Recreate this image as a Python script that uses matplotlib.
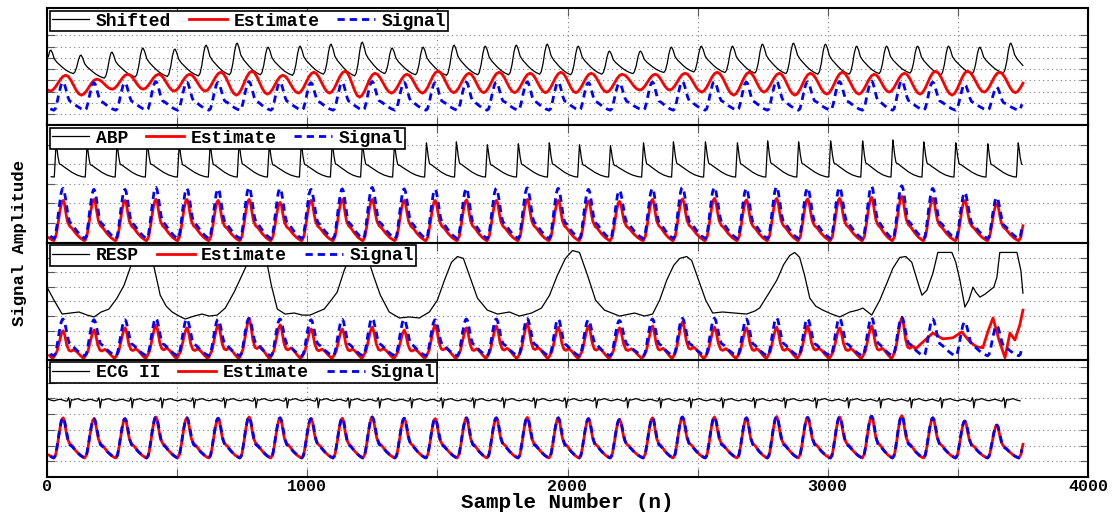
"""
plot.py
4 stacked panels: Shifted / ABP / RESP / ECG II, each with the estimate and the target signal.
Values read off the reference picture (beat positions, beat heights, one beat shape per waveform).
"""

import numpy as np
import matplotlib
matplotlib.use("Agg")
from matplotlib import pyplot as plt

N_END = 3750  # last sample

# ---- Signal (blue, normalised: trough 0, peak 1) ----
# peak positions in samples (first and last are the partial beats at the edges)
sig_peaks = [-57, 62, 181, 300, 419, 538, 658, 777, 896, 1015, 1135, 1250, 1373, 1492, 1612, 1727,
             1846, 1965, 2081, 2200, 2327, 2442, 2565, 2688, 2804, 2923, 3046, 3169, 3285, 3404,
             3527, 3650, 3770]
sig_tops = [1.0, 1.0, 0.98, 0.98, 1.02, 1.0, 0.99, 1.02, 1.0, 0.98, 0.99, 1.02, 0.99, 0.98, 1.0, 1.0,
            1.01, 1.0, 0.98, 0.96, 1.0, 1.02, 1.02, 1.0, 1.03, 1.01, 1.02, 1.04, 1.05, 1.0,
            0.92, 0.82, 0.85]
# one beat: samples before the peak, then fractions of the way to the next trough
sig_pre_off = [-36, -30, -24, -16, -8, -3, 0]
sig_pre_val = [0.0, 0.05, 0.25, 0.6, 0.9, 0.99, 1.0]
sig_post_frac = [0.05, 0.11, 0.16, 0.23, 0.30, 0.42, 0.63, 0.84]
sig_post_val = [0.95, 0.8, 0.65, 0.45, 0.33, 0.28, 0.15, 0.05]

# ---- Estimate beat shape (panels 2 and 4) ----
est_pre_off = [-36, -28, -20, -12, -5, 0]
est_pre_val = [0.0, 0.1, 0.4, 0.75, 0.96, 1.0]
est_post_frac = [0.06, 0.13, 0.2, 0.3, 0.42, 0.6, 0.78, 0.94]
est_post_val = [0.92, 0.68, 0.48, 0.36, 0.3, 0.17, 0.07, 0.01]
est2_tops = [0.76, 0.76, 0.78, 0.76, 0.78, 0.78, 0.76, 0.78, 0.72, 0.76, 0.78, 0.78, 0.76, 0.76,
             0.77, 0.76, 0.78, 0.76, 0.75, 0.74, 0.78, 0.79, 0.8, 0.77, 0.8, 0.79, 0.8, 0.82,
             0.84, 0.8, 0.76, 0.7, 0.7]

# ---- Estimate in panel 3 (with second bump) ----
est3_pre_off = [-36, -24, -14, -6, 0]
est3_pre_val = [0.0, 0.2, 0.6, 0.9, 1.0]
est3_post_frac = [0.07, 0.17, 0.27, 0.36, 0.5, 0.63, 0.8, 0.94]
est3_post_val = [0.85, 0.45, 0.25, 0.22, 0.28, 0.2, 0.05, -0.05]
est3_tops = [0.75, 0.68, 0.70, 0.76, 0.84, 0.76, 0.84, 1.0, 0.84, 0.73, 0.73, 0.78, 0.70, 0.84,
             0.76, 0.81, 0.88, 0.78, 0.81, 0.76, 0.81, 0.92, 0.78, 0.76, 0.78, 0.81, 0.76, 0.81,
             1.03, 0.62]
est3_tail_x = [3354, 3404, 3442, 3481, 3515, 3546, 3573, 3596, 3615, 3635, 3658, 3681, 3700, 3719,
               3738, 3750]
est3_tail_y = [0.30, 0.62, 0.46, 0.49, 0.65, 0.38, 0.24, 0.22, 0.65, 1.03, 0.43, -0.05, 0.62, 0.43,
               0.84, 1.24]

# ---- Estimate in panel 1 (smooth wave, panel units) ----
est1_lag = 10
est1_tops = [4.5, 4.46, 4.11, 4.55, 4.55, 4.55, 4.73, 4.82, 4.46, 4.73, 4.82, 4.64, 4.55, 4.82,
             4.64, 4.73, 4.64, 4.73, 4.64, 4.55, 4.55, 4.64, 4.73, 4.73, 4.64, 4.64, 4.73, 4.55,
             4.64, 4.82, 4.82, 4.73, 4.6]
est1_bases = [3.0, 3.04, 2.68, 3.21, 3.21, 3.04, 3.04, 2.68, 2.77, 2.86, 2.86, 2.5, 2.86, 2.86,
              2.9, 2.9, 2.9, 2.9, 2.9, 2.95, 3.13, 3.13, 2.95, 2.68, 2.95, 2.68, 2.77, 2.77,
              2.95, 2.77, 2.68, 2.95, 2.9]
est1_pre_off = [-59, -50, -40, -30, -20, -10, 0]
est1_pre_val = [0.0, 0.07, 0.25, 0.5, 0.75, 0.93, 1.0]
est1_post_frac = [0.167, 0.333, 0.5, 0.667, 0.833]
est1_post_val = [0.93, 0.75, 0.5, 0.25, 0.07]

# ---- Shifted (panel 1 units) ----
shift_peaks = [-104, 15, 131, 250, 369, 492, 612, 731, 850, 973, 1092, 1212, 1327, 1446, 1565,
               1685, 1804, 1923, 2042, 2162, 2281, 2400, 2515, 2635, 2750, 2869, 2992, 3112, 3227,
               3346, 3465, 3585, 3704, 3823]
shift_tops = [6.7, 6.70, 6.25, 6.52, 6.88, 6.79, 7.14, 7.32, 6.96, 7.05, 7.23, 7.41, 6.88, 6.96,
              7.14, 7.05, 7.14, 7.23, 7.05, 6.61, 6.61, 6.96, 7.05, 7.05, 7.23, 7.32, 7.23, 7.05,
              7.05, 7.05, 7.05, 6.96, 7.32, 7.0]
shift_bases = [4.4, 4.4, 4.6, 4.2, 4.3, 4.35, 4.4, 4.5, 4.5, 4.45, 4.55, 4.4, 4.6, 4.5, 4.45, 4.5,
               4.5, 4.55, 4.5, 4.55, 4.6, 4.7, 4.75, 4.7, 4.65, 4.6, 4.55, 4.55, 4.6, 4.65, 4.5,
               4.6, 4.65, 4.6]
shift_pre_off = [-30, -24, -17, -10, -4, 0]
shift_pre_val = [0.0, 0.08, 0.35, 0.75, 0.97, 1.0]
shift_post_frac = [0.067, 0.157, 0.27, 0.36, 0.51, 0.67, 0.84]
shift_post_val = [0.88, 0.62, 0.48, 0.4, 0.27, 0.15, 0.06]

# ---- ABP (panel 2 units) ----
abp_peaks = [-84, 35, 154, 269, 385, 508, 627, 738, 854, 977, 1096, 1212, 1335, 1458, 1573, 1692,
             1811, 1930, 2046, 2165, 2292, 2407, 2530, 2653, 2769, 2888, 3011, 3134, 3250, 3369,
             3492, 3615, 3732, 3851]
abp_tops = [5.1, 5.1, 5.0, 5.05, 5.1, 5.0, 5.05, 5.1, 5.0, 5.05, 5.1, 5.05, 5.0, 5.1, 5.15, 5.0,
            5.05, 5.1, 5.0, 4.95, 5.1, 5.15, 5.15, 5.1, 5.2, 5.15, 5.2, 5.2, 5.25, 5.15, 5.1,
            5.05, 5.1, 5.1]
abp_base = 3.35
abp_pre_off = [-7, -3, 0]
abp_pre_val = [0.0, 0.55, 1.0]
abp_post_frac = [0.027, 0.063, 0.107, 0.134, 0.179, 0.268, 0.402, 0.536, 0.714, 0.893]
abp_post_val = [0.85, 0.6, 0.4, 0.37, 0.36, 0.3, 0.22, 0.14, 0.06, 0.01]

# ---- RESP (panel 3 units) ----
resp_x = [0, 27, 58, 92, 123, 154, 181, 208, 238, 269, 296, 323, 346, 365, 385, 404, 435, 458,
          481, 508, 531, 565, 596, 623, 654, 685, 719, 758, 788, 815, 838, 862, 885, 915, 950,
          981, 1011, 1038, 1065, 1092, 1115, 1142, 1165, 1188, 1211, 1231, 1254, 1281, 1315,
          1354, 1392, 1431, 1469, 1500, 1527, 1554, 1577, 1600, 1623, 1654, 1692, 1731, 1777,
          1815, 1862, 1900, 1931, 1961, 1992, 2019, 2046, 2077, 2108, 2142, 2200, 2258, 2296,
          2327, 2354, 2381, 2408, 2431, 2458, 2477, 2508, 2531, 2558, 2596, 2642, 2688, 2719,
          2738, 2769, 2804, 2831, 2854, 2873, 2892, 2911, 2931, 2954, 2981, 3015, 3046, 3085,
          3115, 3135, 3154, 3169, 3200, 3227, 3250, 3277, 3300, 3323, 3346, 3362, 3381, 3404,
          3423, 3477, 3492, 3508, 3527, 3542, 3558, 3569, 3585, 3604, 3623, 3638, 3650, 3661,
          3727, 3742, 3750]
resp_y = [4.97, 4.08, 3.13, 3.20, 3.27, 3.06, 2.93, 3.27, 3.47, 4.22, 5.10, 6.46, 7.48, 7.76,
          7.69, 6.94, 4.42, 3.67, 3.27, 2.99, 2.79, 2.99, 3.13, 2.99, 3.06, 3.54, 4.63, 6.12,
          7.28, 7.69, 7.28, 5.10, 3.47, 3.13, 3.20, 3.06, 3.06, 3.27, 3.47, 4.08, 4.63, 6.12,
          7.14, 7.69, 7.55, 7.07, 5.78, 4.42, 3.27, 2.86, 2.93, 2.86, 3.27, 4.08, 5.44, 6.67,
          7.07, 6.94, 5.78, 4.22, 3.40, 3.13, 3.27, 2.99, 3.20, 3.54, 4.42, 5.78, 6.94, 7.48,
          7.35, 5.78, 4.08, 3.40, 2.99, 3.20, 2.99, 3.13, 4.08, 5.44, 6.46, 6.94, 7.07, 6.80,
          5.24, 4.08, 3.20, 3.27, 3.20, 3.13, 3.33, 3.54, 4.42, 5.44, 6.53, 7.14, 7.35, 7.01,
          5.78, 4.22, 3.67, 3.40, 3.13, 2.93, 3.27, 3.40, 3.54, 3.27, 3.06, 4.08, 5.24, 6.26,
          7.01, 7.07, 6.67, 5.31, 4.42, 4.76, 5.92, 7.35, 7.35, 6.67, 5.44, 3.61, 4.08, 4.97,
          4.63, 4.29, 4.49, 4.76, 4.97, 5.65, 7.35, 7.35, 6.12, 4.56]

# ---- ECG II (panel 4 units, around baseline) ----
ecg_r = [-31, 88, 204, 327, 442, 565, 684, 803, 923, 1042, 1162, 1278, 1401, 1520, 1641, 1756,
         1876, 1995, 2111, 2231, 2358, 2474, 2597, 2720, 2837, 2956, 3080, 3203, 3321, 3438,
         3561, 3681, 3800]
ecg_base = 4.84
ecg_pre_off = [-10, -5, -2, 0]
ecg_pre_val = [0.0, 0.2, 0.0, -0.45]
ecg_post_frac = [0.03, 0.055, 0.11, 0.2, 0.29, 0.41, 0.53, 0.64, 0.75, 0.87, 0.96]
ecg_post_val = [-0.15, 0.08, 0.05, 0.1, 0.14, 0.05, 0.0, 0.06, 0.1, 0.03, -0.02]

# where the normalised Signal sits in each panel: (offset, scale)
sig_map = [(1.34, 2.5), (0.2, 2.57), (0.27, 2.52), (1.21, 2.55)]
panel_names = ["Shifted", "ABP", "RESP", "ECG II"]
panel_ylim = [10.45, 6.0, 8.03, 7.45]
panel_nticks = [8, 5, 7, 7]


def beat_line(peaks, pre_off, pre_val, post_frac, post_val, tops, bases):
    # put one beat shape on every peak, stretched to reach the next beat
    n = len(peaks)
    tops = np.broadcast_to(np.asarray(tops, float), n)
    bases = np.broadcast_to(np.asarray(bases, float), n)
    xs, ys = [], []
    for i in range(n):
        p, t, b0 = peaks[i], tops[i], bases[i]
        for o, v in zip(pre_off, pre_val):
            xs.append(p + o)
            ys.append(b0 + (t - b0) * v)
        if i == n - 1:
            break
        b1 = bases[i + 1]
        span = peaks[i + 1] + pre_off[0] - p
        for f, v in zip(post_frac, post_val):
            xs.append(p + f * span)
            ys.append(b1 + (t - b1) * v)
    xs, ys = np.array(xs), np.array(ys)
    keep = (xs >= 0) & (xs <= N_END)
    return xs[keep], ys[keep]


sig_x, sig_y = beat_line(sig_peaks, sig_pre_off, sig_pre_val, sig_post_frac, sig_post_val, sig_tops, 0.0)
est2_x, est2_y = beat_line(sig_peaks, est_pre_off, est_pre_val, est_post_frac, est_post_val, est2_tops, -0.04)
est4_x, est4_y = beat_line(sig_peaks, est_pre_off, est_pre_val, est_post_frac, est_post_val, sig_tops, 0.0)
e3x, e3y = beat_line(sig_peaks[:30], est3_pre_off, est3_pre_val, est3_post_frac, est3_post_val, est3_tops, -0.03)
cut = e3x < est3_tail_x[0] - 9
est3_x = np.concatenate([e3x[cut], est3_tail_x])
est3_y = np.concatenate([e3y[cut], est3_tail_y])
est1_x, est1_y = beat_line(list(np.array(sig_peaks) + est1_lag), est1_pre_off, est1_pre_val,
                           est1_post_frac, est1_post_val, est1_tops, est1_bases)
shift_x, shift_y = beat_line(shift_peaks, shift_pre_off, shift_pre_val, shift_post_frac,
                             shift_post_val, shift_tops, shift_bases)
abp_x, abp_y = beat_line(abp_peaks, abp_pre_off, abp_pre_val, abp_post_frac, abp_post_val, abp_tops, abp_base)
ecg_x, ecg_y = beat_line(ecg_r, ecg_pre_off, ecg_pre_val, ecg_post_frac, ecg_post_val, 1.0, 0.0)

black_lines = [(shift_x, shift_y), (abp_x, abp_y), (np.array(resp_x), np.array(resp_y)),
               (ecg_x, ecg_y + ecg_base)]
est_lines = [(est1_x, est1_y), (est2_x, est2_y), (est3_x, est3_y), (est4_x, est4_y)]

plt.rcParams["font.family"] = ["Liberation Mono", "DejaVu Sans Mono"]
plt.rcParams["font.weight"] = "bold"

fig = plt.figure(figsize=(11.2, 5.12), dpi=100)
left, width = 47 / 1120, 1041 / 1120
ph = 117.25 / 512
bottom0 = 1 - 477 / 512

axes = []
for k in range(4):
    ax = fig.add_axes([left, bottom0 + (3 - k) * ph, width, ph])
    axes.append(ax)
    off, sc = sig_map[k]
    bx, by = black_lines[k]
    h1, = ax.plot(bx, by, color="k", lw=0.9)
    ex, ey = est_lines[k]
    if k == 0:
        # panel 1 estimate is already in panel units
        h2, = ax.plot(ex, ey, color="r", lw=2.0)
    else:
        h2, = ax.plot(ex, off + sc * ey, color="r", lw=2.0)
    h3, = ax.plot(sig_x, off + sc * sig_y, color="b", lw=2.0, linestyle=(0, (2.6, 1.8)))

    ax.set_xlim(0, 4000)
    ax.set_ylim(0, panel_ylim[k])
    ax.set_yticks(np.arange(1, panel_nticks[k] + 1))
    ax.set_xticks(np.arange(0, 4001, 500))
    ax.set_xticklabels([str(v) if v % 1000 == 0 else "" for v in range(0, 4001, 500)])
    ax.tick_params(direction="in", length=6, width=0.8, color="0.35", top=True, right=True,
                   labelleft=False, labelbottom=(k == 3), labelsize=12, pad=1.5)
    ax.grid(True, linestyle=(0, (1, 3)), color="0.5", linewidth=0.8)
    for s in ax.spines.values():
        s.set_linewidth(1.5)
        s.set_color("k")
    leg = ax.legend([h1, h2, h3], [panel_names[k], "Estimate", "Signal"], loc="upper left",
                    ncol=3, fancybox=False, framealpha=1, edgecolor="k", fontsize=13,
                    handlelength=2.1, handletextpad=0.35, columnspacing=1.0,
                    borderpad=0.1, borderaxespad=0.15)
    leg.get_frame().set_linewidth(1.2)

for lab in axes[3].get_xticklabels():
    lab.set_fontweight("bold")

fig.text(567 / 1120, 1 - 508 / 512, "Sample Number (n)", ha="center", va="baseline",
         fontsize=15, fontweight="bold")
fig.text(20 / 1120, 1 - 243 / 512, "Signal Amplitude", ha="center", va="center",
         rotation=90, fontsize=12.5, fontweight="bold")

fig.savefig("out.png", dpi=100)
